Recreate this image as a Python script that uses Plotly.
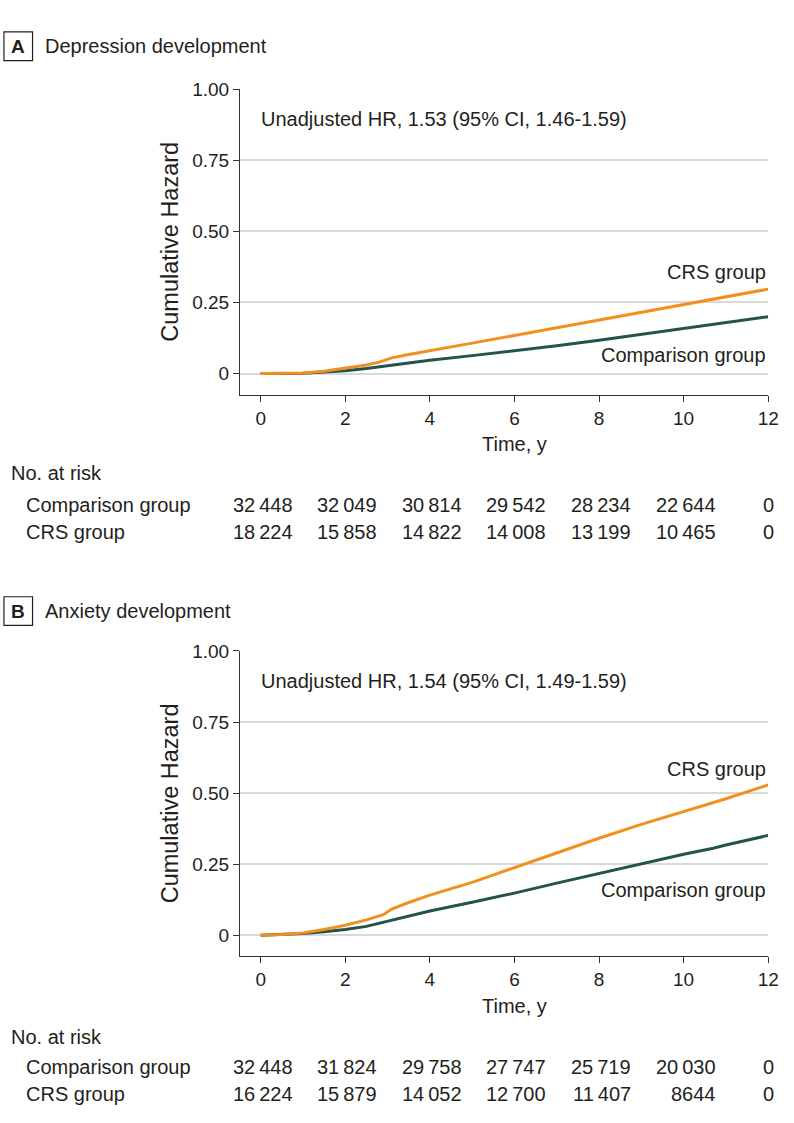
import plotly.graph_objects as go

# ---------------- data ----------------
time_a = [0, 0.5, 1, 1.5, 2, 2.5, 2.8, 3.1, 3.5, 4, 5, 6, 7, 8, 9, 10, 11, 12]
crs_a = [0, 0, 0.002, 0.008, 0.018, 0.030, 0.040, 0.055, 0.067, 0.081, 0.107, 0.134, 0.161, 0.189, 0.216, 0.244, 0.270, 0.297]
comp_a = [0, 0, 0.001, 0.005, 0.010, 0.018, 0.024, 0.031, 0.038, 0.047, 0.063, 0.080, 0.098, 0.117, 0.138, 0.159, 0.179, 0.200]

time_b = [0, 0.5, 1, 1.5, 2, 2.5, 2.9, 3.1, 3.5, 4, 5, 6, 7, 8, 9, 10, 10.7, 11, 12]
crs_b = [0, 0.002, 0.008, 0.020, 0.035, 0.054, 0.072, 0.092, 0.115, 0.141, 0.186, 0.238, 0.291, 0.341, 0.390, 0.434, 0.466, 0.480, 0.529]
comp_b = [0, 0.002, 0.006, 0.012, 0.020, 0.031, 0.045, 0.052, 0.067, 0.085, 0.116, 0.148, 0.183, 0.217, 0.252, 0.285, 0.306, 0.317, 0.351]

risk_times = [0, 2, 4, 6, 8, 10, 12]
risk_comp_a = [32448, 32049, 30814, 29542, 28234, 22644, 0]
risk_crs_a = [18224, 15858, 14822, 14008, 13199, 10465, 0]
risk_comp_b = [32448, 31824, 29758, 27747, 25719, 20030, 0]
risk_crs_b = [16224, 15879, 14052, 12700, 11407, 8644, 0]

y_ticks = [0, 0.25, 0.5, 0.75, 1.0]
y_ticktext = ["0", "0.25", "0.50", "0.75", "1.00"]
x_ticks = [0, 2, 4, 6, 8, 10, 12]

panel_titles = ["Depression development", "Anxiety development"]
panel_letters = ["A", "B"]
hr_texts = ["Unadjusted HR, 1.53 (95% CI, 1.46-1.59)",
            "Unadjusted HR, 1.54 (95% CI, 1.49-1.59)"]

# ---------------- style ----------------
W, H = 794, 1123
FONT = "Liberation Sans, Arial, sans-serif"
TXT = "#231F20"
ORANGE = "#F0901E"
GREEN = "#24524D"
GRID = "#D9D9D9"
AX = "#333333"


def px(p):
    return p / W


def py(p):
    return 1 - p / H


def fmt(v):
    s = str(v)
    if len(s) >= 5:
        s = s[:-3] + "\u2009" + s[-3:]
    return s


fig = go.Figure()

panels = [
    dict(t=time_a, crs=crs_a, comp=comp_a, rc=risk_comp_a, rr=risk_crs_a,
         top=80, bot=388.3, title_y=36.5, box=(22, 51), hr_y=110,
         crs_lab=264, comp_lab=348, time_y=438, risk=(467, 499, 527)),
    dict(t=time_b, crs=crs_b, comp=comp_b, rc=risk_comp_b, rr=risk_crs_b,
         top=646.7, bot=955, title_y=606.5, box=(592, 621), hr_y=677,
         crs_lab=766, comp_lab=888, time_y=1005, risk=(1036, 1067, 1094)),
]

annotations = []
shapes = []
for i, p in enumerate(panels):
    n = "" if i == 0 else str(i + 1)
    xa, ya = "x" + n, "y" + n
    fig.add_trace(go.Scatter(x=p["t"], y=p["comp"], mode="lines",
                             line=dict(color=GREEN, width=3), xaxis=xa, yaxis=ya,
                             name="Comparison group"))
    fig.add_trace(go.Scatter(x=p["t"], y=p["crs"], mode="lines",
                             line=dict(color=ORANGE, width=3), xaxis=xa, yaxis=ya,
                             name="CRS group"))
    dom_y = [py(p["bot"]), py(p["top"])]
    fig.update_layout(**{
        "xaxis" + n: dict(domain=[px(243.3), px(779)], range=[-0.49, 12], anchor=ya,
                          tickvals=x_ticks, ticks="outside", ticklen=6, tickwidth=1,
                          tickcolor=AX, showline=True, linecolor=AX, linewidth=1,
                          showgrid=False, zeroline=False,
                          tickfont=dict(family=FONT, size=19, color=TXT)),
        "yaxis" + n: dict(domain=dom_y, range=[-0.075, 1.0], anchor=xa,
                          tickvals=y_ticks, ticktext=y_ticktext, ticks="outside",
                          ticklen=6, tickwidth=1, tickcolor=AX, showline=True,
                          linecolor=AX, linewidth=1, showgrid=True, gridcolor=GRID,
                          gridwidth=1.5, zeroline=False,
                          tickfont=dict(family=FONT, size=19, color=TXT)),
    })
    # panel letter box and title
    shapes.append(dict(type="rect", xref="paper", yref="paper",
                       x0=px(4), x1=px(33), y0=py(p["box"][1]), y1=py(p["box"][0]),
                       line=dict(color=TXT, width=1.2)))
    annotations.append(dict(text="<b>" + panel_letters[i] + "</b>", xref="paper", yref="paper",
                            x=px(18.5), y=py(p["title_y"]), xanchor="center", yanchor="middle",
                            showarrow=False, font=dict(family=FONT, size=19, color=TXT)))
    annotations.append(dict(text=panel_titles[i], xref="paper", yref="paper",
                            x=px(44), y=py(p["title_y"]), xanchor="left", yanchor="middle",
                            showarrow=False, font=dict(family=FONT, size=20, color=TXT)))
    annotations.append(dict(text=hr_texts[i], xref="paper", yref="paper",
                            x=px(263), y=py(p["hr_y"]), xanchor="left", yanchor="middle",
                            showarrow=False, font=dict(family=FONT, size=20, color=TXT)))
    annotations.append(dict(text="CRS group", xref=xa, yref="paper",
                            x=12, y=py(p["crs_lab"]), xanchor="right", yanchor="middle",
                            showarrow=False, font=dict(family=FONT, size=20, color=TXT)))
    annotations.append(dict(text="Comparison group", xref=xa, yref="paper",
                            x=12, y=py(p["comp_lab"]), xanchor="right", yanchor="middle",
                            showarrow=False, font=dict(family=FONT, size=20, color=TXT)))
    # axis titles
    annotations.append(dict(text="Cumulative Hazard", xref="paper", yref="paper",
                            x=px(172), y=(dom_y[0] + dom_y[1]) / 2, xanchor="center",
                            yanchor="middle", textangle=-90, showarrow=False,
                            font=dict(family=FONT, size=23.5, color=TXT)))
    annotations.append(dict(text="Time, y", xref=xa, yref="paper",
                            x=6, y=py(p["time_y"]), xanchor="center", yanchor="middle",
                            showarrow=False, font=dict(family=FONT, size=20, color=TXT)))
    # risk table
    r0, r1, r2 = p["risk"]
    annotations.append(dict(text="No. at risk", xref="paper", yref="paper",
                            x=px(9), y=py(r0), xanchor="left", yanchor="middle",
                            showarrow=False, font=dict(family=FONT, size=20, color=TXT)))
    for lab, yy in (("Comparison group", r1), ("CRS group", r2)):
        annotations.append(dict(text=lab, xref="paper", yref="paper",
                                x=px(24), y=py(yy), xanchor="left", yanchor="middle",
                                showarrow=False, font=dict(family=FONT, size=20, color=TXT)))
    for vals, yy in ((p["rc"], r1), (p["rr"], r2)):
        for k, (tt, v) in enumerate(zip(risk_times, vals)):
            last = k == len(risk_times) - 1
            annotations.append(dict(text=fmt(v), xref=xa, yref="paper",
                                    x=tt, y=py(yy),
                                    xanchor="center" if last else "right",
                                    xshift=0 if last else 34,
                                    yanchor="middle", showarrow=False,
                                    font=dict(family=FONT, size=20, color=TXT)))

fig.update_layout(width=W, height=H, margin=dict(l=0, r=0, t=0, b=0),
                  paper_bgcolor="white", plot_bgcolor="white", showlegend=False,
                  annotations=annotations, shapes=shapes,
                  font=dict(family=FONT, color=TXT))

fig.write_html("out.html",
               config={"displayModeBar": False},
               post_script="document.documentElement.style.margin='0';"
                           "document.body.style.margin='0';"
                           "document.body.style.padding='0';"
                           "document.body.style.overflow='hidden';"
                           "var gd=document.getElementById('{plot_id}');"
                           "gd.style.position='fixed';gd.style.top='0px';gd.style.left='0px';")
